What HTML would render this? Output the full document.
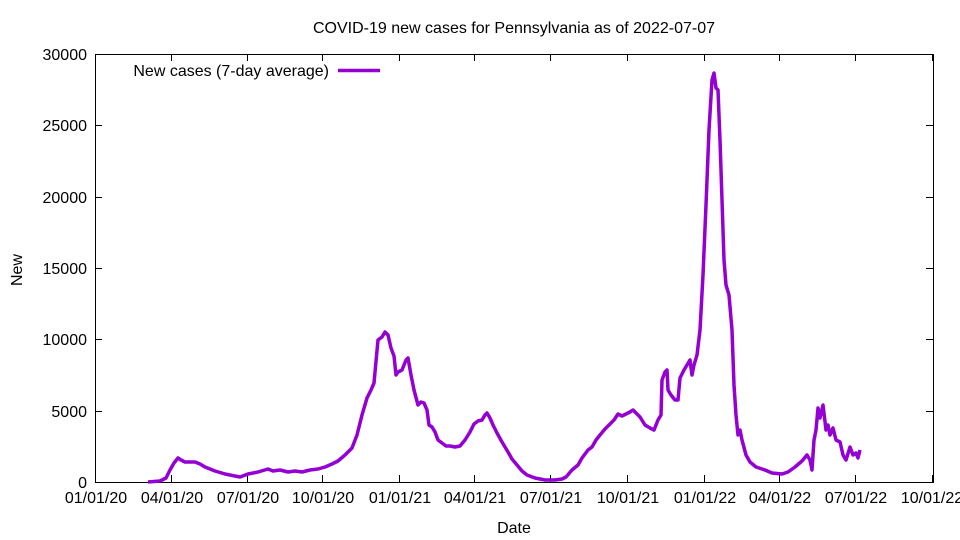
<!DOCTYPE html>
<html><head><meta charset="utf-8"><style>body{margin:0;background:#fff}svg{display:block}text{font-family:"Liberation Sans",sans-serif;font-size:16px;fill:#000}</style></head><body>
<svg width="960" height="540" xmlns="http://www.w3.org/2000/svg">
<rect width="960" height="540" fill="#fff"/>
<text x="514" y="33" text-anchor="middle">COVID-19 new cases for Pennsylvania as of 2022-07-07</text>
<g stroke="#000" stroke-width="1">
<rect x="95.5" y="54.5" width="838" height="428" fill="none"/>
<path d="M95 482.5h7M95 411.5h7M95 339.5h7M95 268.5h7M95 197.5h7M95 125.5h7M95 54.5h7M933 482.5h-7M933 411.5h-7M933 339.5h-7M933 268.5h-7M933 197.5h-7M933 125.5h-7M933 54.5h-7"/>
<path d="M95.5 482v-7M171.5 482v-7M247.5 482v-7M322.5 482v-7M399.5 482v-7M474.5 482v-7M550.5 482v-7M627.5 482v-7M704.5 482v-7M779.5 482v-7M855.5 482v-7M932.5 482v-7M95.5 54v7M171.5 54v7M247.5 54v7M322.5 54v7M399.5 54v7M474.5 54v7M550.5 54v7M627.5 54v7M704.5 54v7M779.5 54v7M855.5 54v7M932.5 54v7"/>
</g>
<g text-anchor="end">
<text x="87" y="488">0</text><text x="87" y="417">5000</text><text x="87" y="345">10000</text><text x="87" y="274">15000</text><text x="87" y="203">20000</text><text x="87" y="131">25000</text><text x="87" y="60">30000</text>
</g>
<g text-anchor="middle">
<text x="96" y="503">01/01/20</text><text x="172" y="503">04/01/20</text><text x="248" y="503">07/01/20</text><text x="323" y="503">10/01/20</text><text x="400" y="503">01/01/21</text><text x="475" y="503">04/01/21</text><text x="551" y="503">07/01/21</text><text x="628" y="503">10/01/21</text><text x="705" y="503">01/01/22</text><text x="780" y="503">04/01/22</text><text x="856" y="503">07/01/22</text><text x="932" y="503">10/01/22</text>
<text x="514" y="533">Date</text>
</g>
<text x="22" y="270" text-anchor="middle" transform="rotate(-90 22 270)">New</text>
<text x="329" y="76" text-anchor="end">New cases (7-day average)</text>
<path d="M338 70.5H380" stroke="#9400d3" stroke-width="3.5"/>
<polyline fill="none" stroke="#9400d3" stroke-width="3.5" stroke-linejoin="round" points="148,482 160,481 166,478 170,470 174,463 178,458 181,460 185,462 195,462 200,464 205,467 210,469 215,471 225,474 235,476 240,477 248,474 258,472 268,469 273,471 280,470 288,472 295,471 302,472 310,470 318,469 325,467 332,464 338,461 345,455 352,448 357,435 362,415 367,398 371,390 374,383 378,340 382,337 385,332 388,335 391,348 394,356 396,375 398,372 402,370 406,360 408,358 411,375 414,390 418,405 421,402 424,403 427,410 429,425 432,427 435,432 438,440 442,443 446,446 450,446 455,447 460,446 465,440 470,432 474,424 478,421 482,420 485,415 487,413 490,418 493,425 497,433 502,442 508,452 512,459 517,465 522,471 527,475 535,478 545,480 555,480 562,479 566,477 572,470 578,465 582,458 588,450 592,447 596,440 600,435 605,429 609,425 614,420 618,414 622,416 626,414 630,412 633,410 636,413 640,417 645,425 650,428 654,430 658,420 661,415 662,380 665,372 667,370 668,390 671,395 675,400 678,400 680,378 684,370 687,365 690,360 692,375 694,365 697,355 700,330 703,275 706,205 709,130 712,80 714,73 716,88 718,90 720,140 722,200 724,260 726,285 729,295 732,330 734,385 736,415 738,435 740,430 742,440 746,455 750,462 756,467 765,470 772,473 782,474 788,472 795,467 802,461 807,455 810,460 812,470 814,440 816,430 818,408 820,418 823,405 826,430 828,425 830,435 833,428 836,440 840,442 843,455 846,460 850,447 853,455 856,453 858,458 860,450"/>
</svg>
</body></html>
